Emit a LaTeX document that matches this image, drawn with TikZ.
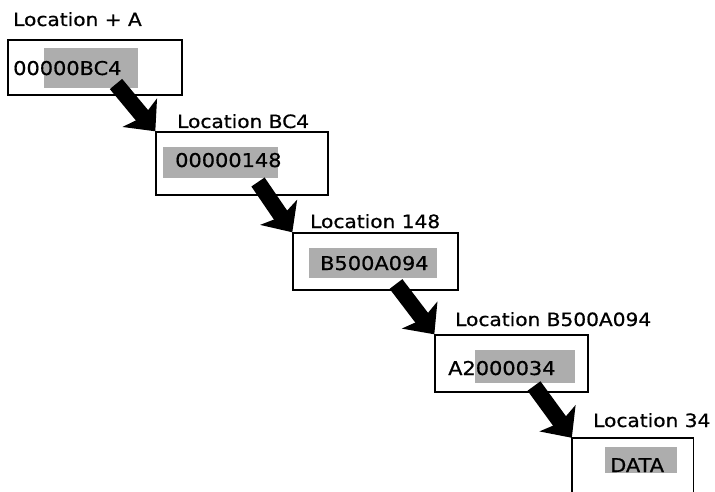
\documentclass[tikz,border=0pt]{standalone}
\usepackage{fontspec}
\setmainfont{DejaVu Sans}
\newfontfamily\printfont[FakeBold=0.7]{DejaVu Sans}
\usetikzlibrary{arrows.meta}

% slightly widened lettering
\newcommand\widetxt[1]{\scalebox{1.1}[1]{#1}}

\tikzset{
  memcell/.style={draw=black, line width=1.4pt, rectangle, inner sep=0pt},
  celltag/.style={anchor=base west, inner sep=0pt, font=\printfont\fontsize{18.3}{21}\selectfont},
  cellval/.style={anchor=base west, inner sep=0pt, font=\printfont\fontsize{19}{21}\selectfont},
  stipple/.style={fill=black!32},
  pointer/.style={line width=16pt, -{Stealth[length=24pt, width=44pt, inset=5pt]}},
}

\begin{document}
\begin{tikzpicture}[x=1pt, y=-1pt]
\useasboundingbox (0,0) rectangle (715,492);

% memory cells
\node[memcell, minimum width=174pt, minimum height=55pt] (b1) at (95,67.5) {};
\node[memcell, minimum width=172pt, minimum height=63pt] (b2) at (242,163.5) {};
\node[memcell, minimum width=165pt, minimum height=57pt] (b3) at (375.5,261.5) {};
\node[memcell, minimum width=153pt, minimum height=57pt] (b4) at (511.5,363.5) {};
\node[rectangle, inner sep=0pt, minimum width=121pt, minimum height=62pt] (b5) at (632.5,469) {};
\draw[line width=1.4pt] (b5.south west) -- (b5.north west) -- (b5.north east) -- (b5.south east);

% shaded value fields
\fill[stipple] (44,48) rectangle (138,88);
\fill[stipple] (163,147) rectangle (278,178);
\fill[stipple] (309,248) rectangle (437,278);
\fill[stipple] (475,350) rectangle (575,383);
\fill[stipple] (605,447) rectangle (677,473);

% location labels
\node[celltag] (l1) at (13,26)  {\widetxt{Location + A}};
\node[celltag] (l2) at (177,128) {\widetxt{Location BC4}};
\node[celltag] (l3) at (310,228) {\widetxt{Location 148}};
\node[celltag] (l4) at (455,326) {\widetxt{Location B500A094}};
\node[celltag] (l5) at (593,427) {\widetxt{Location 34}};

% cell contents
\node[cellval] (v1) at (13,75)  {\widetxt{00000BC4}};
\node[cellval] (v2) at (175,167) {\widetxt{00000148}};
\node[cellval] (v3) at (320,270) {\widetxt{B500A094}};
\node[cellval] (v4) at (448,375) {\widetxt{A2000034}};
\node[cellval] (v5) at (610,472) {\widetxt{DATA}};

% pointer arrows
\coordinate (p1) at (116,84);
\coordinate (p2) at (258,182);
\coordinate (p3) at (396,284);
\coordinate (p4) at (534,386);
\draw[pointer] (p1) -- (b2.north west);
\draw[pointer] (p2) -- (b3.north west);
\draw[pointer] (p3) -- (b4.north west);
\draw[pointer] (p4) -- (b5.north west);
\end{tikzpicture}
\end{document}
